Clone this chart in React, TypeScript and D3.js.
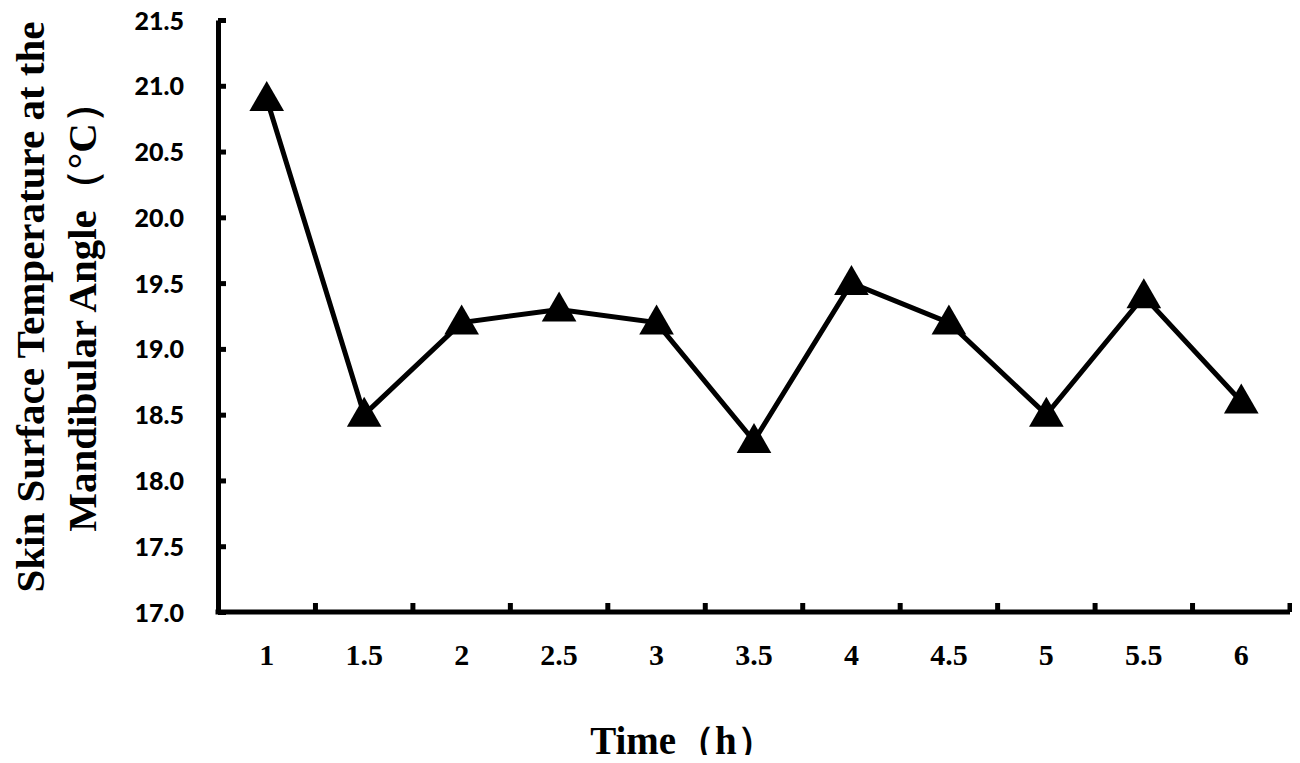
import { useEffect, useRef } from 'react'
import * as d3 from 'd3'

const times = ['1', '1.5', '2', '2.5', '3', '3.5', '4', '4.5', '5', '5.5', '6']
const temps = [20.9, 18.5, 19.2, 19.3, 19.2, 18.3, 19.5, 19.2, 18.5, 19.4, 18.6]
const yTicks = [17.0, 17.5, 18.0, 18.5, 19.0, 19.5, 20.0, 20.5, 21.0, 21.5]

export default function App() {
  const svgRef = useRef<SVGSVGElement>(null)

  useEffect(() => {
    if (!svgRef.current) return
    const width = 1300
    const height = 763
    const margin = { top: 20, right: 10, bottom: 151, left: 218 }
    const innerWidth = width - margin.left - margin.right
    const innerHeight = height - margin.top - margin.bottom

    const x = d3.scaleBand().domain(times).range([0, innerWidth]).padding(0)
    const y = d3.scaleLinear().domain([17, 21.5]).range([innerHeight, 0])

    const svg = d3.select(svgRef.current)
    svg.selectAll('*').remove()
    svg.attr('width', width).attr('height', height)

    const g = svg.append('g').attr('transform', `translate(${margin.left},${margin.top})`)

    // y axis, ticks pointing inward
    const yAxis = g.append('g')
      .call(d3.axisLeft(y).tickValues(yTicks).tickSize(-8).tickSizeOuter(0).tickFormat(d => (d as number).toFixed(1)))
    yAxis.select('.domain').attr('stroke', '#000').attr('stroke-width', 5)
    yAxis.selectAll('.tick line').attr('stroke', '#000').attr('stroke-width', 5)
    yAxis.selectAll('.tick text')
      .attr('x', -34)
      .attr('dy', '0.36em')
      .attr('fill', '#000')
      .style('font-family', 'Lato, "Open Sans", sans-serif')
      .style('font-weight', 900)
      .style('font-size', '25px')

    // x axis: ticks at band boundaries
    const boundaries = times.map((t, i) => (i + 1) * x.bandwidth())
    const xAxis = g.append('g').attr('transform', `translate(0,${innerHeight})`)
    xAxis.append('line')
      .attr('x1', -2.5).attr('x2', innerWidth).attr('y1', 0).attr('y2', 0)
      .attr('stroke', '#000').attr('stroke-width', 5)
    xAxis.selectAll('.btick').data(boundaries).join('line')
      .attr('x1', d => d).attr('x2', d => d)
      .attr('y1', 0).attr('y2', -9)
      .attr('stroke', '#000').attr('stroke-width', 5)
    xAxis.selectAll('.xlabel').data(times).join('text')
      .attr('x', d => (x(d) ?? 0) + x.bandwidth() / 2)
      .attr('y', 53)
      .attr('text-anchor', 'middle')
      .style('font-family', '"Liberation Serif", "Times New Roman", serif')
      .style('font-weight', 700)
      .style('font-size', '30px')
      .text(d => d)

    const line = d3.line<number>()
      .x((d, i) => (x(times[i]) ?? 0) + x.bandwidth() / 2)
      .y(d => y(d))

    g.append('path')
      .datum(temps)
      .attr('fill', 'none')
      .attr('stroke', '#000')
      .attr('stroke-width', 5)
      .attr('stroke-linejoin', 'miter')
      .attr('d', line)

    const tri = d3.symbol().type(d3.symbolTriangle).size(520)
    g.selectAll('.pt').data(temps).join('path')
      .attr('transform', (d, i) => `translate(${(x(times[i]) ?? 0) + x.bandwidth() / 2},${y(d) + 2})`)
      .attr('d', tri)
      .attr('fill', '#000')

    // axis titles
    svg.append('text')
      .attr('x', 683)
      .attr('y', 754)
      .attr('text-anchor', 'middle')
      .style('font-family', '"Liberation Serif", "Times New Roman", serif')
      .style('font-weight', 700)
      .style('font-size', '39px')
      .text('Time（h）')

    const yTitle = svg.append('text')
      .attr('transform', 'translate(0,307) rotate(-90)')
      .attr('text-anchor', 'middle')
      .style('font-family', '"Liberation Serif", "Times New Roman", serif')
      .style('font-weight', 700)
      .style('font-size', '41px')
    yTitle.append('tspan').attr('x', 0).attr('y', 44).text('Skin Surface Temperature at the')
    yTitle.append('tspan').attr('x', 0).attr('y', 96).text('Mandibular Angle（°C）')
  }, [])

  return (
    <div style={{ margin: '-8px' }}>
      <svg ref={svgRef} style={{ display: 'block', background: '#fff' }} />
    </div>
  )
}
